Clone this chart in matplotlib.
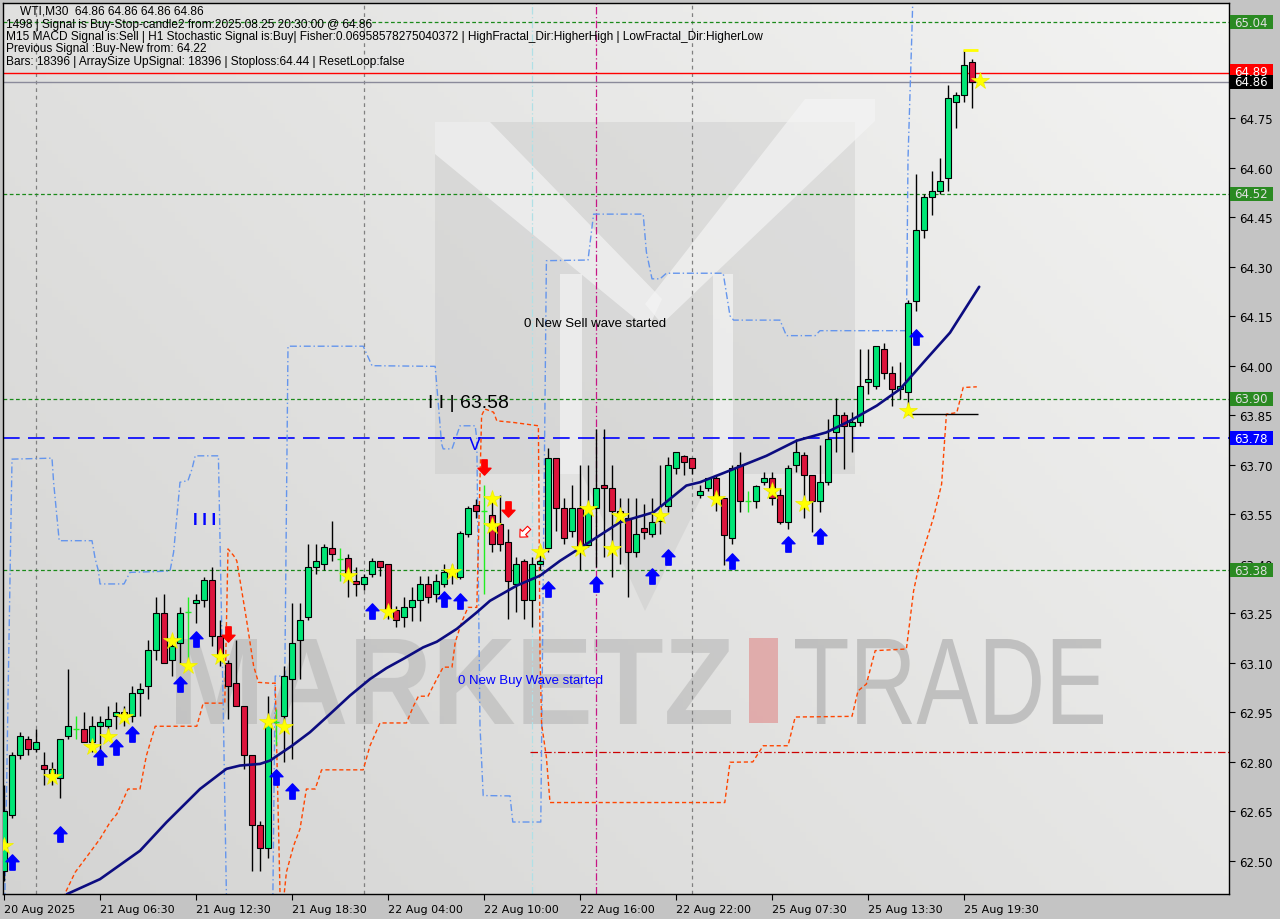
import numpy as np
import matplotlib
matplotlib.use("Agg")
import matplotlib.pyplot as plt
from matplotlib.path import Path
from matplotlib.patches import Rectangle, Polygon, PathPatch
from matplotlib.textpath import TextPath
from matplotlib.font_manager import FontProperties
from matplotlib.transforms import Affine2D, blended_transform_factory

# WTI M30 bars, index 0 = 20 Aug 2025 (last visible bar 122)
opens = [62.47, 62.64, 62.82, 62.87, 62.84, 62.79, 62.765, 62.75, 62.88, 62.90,
         62.90, 62.86, 62.91, 62.91, 62.94, 62.95, 62.94, 63.01, 63.03, 63.14,
         63.25, 63.11, 63.16, 63.255, 63.28, 63.29, 63.35, 63.18, 63.10, 63.04,
         62.97, 62.82, 62.61, 62.54, 62.92, 62.94, 63.05, 63.17, 63.24, 63.39,
         63.40, 63.447, 63.415, 63.417, 63.349, 63.339, 63.369, 63.407, 63.399, 63.261,
         63.238, 63.268, 63.291, 63.339, 63.309, 63.339, 63.37, 63.359, 63.49, 63.578,
         63.56, 63.548, 63.521, 63.467, 63.339, 63.407, 63.291, 63.40, 63.447, 63.719,
         63.568, 63.50, 63.568, 63.457, 63.568, 63.639, 63.629, 63.56, 63.538, 63.437,
         63.507, 63.49, 63.53, 63.576, 63.689, 63.728, 63.72, 63.608, 63.629, 63.659,
         63.598, 63.477, 63.699, 63.589, 63.589, 63.649, 63.659, 63.608, 63.528, 63.699,
         63.73, 63.669, 63.589, 63.649, 63.798, 63.851, 63.818, 63.828, 63.95, 63.937,
         64.051, 63.978, 63.929, 63.919, 64.197, 64.41, 64.51, 64.53, 64.567, 64.80,
         64.82, 64.919, 64.86]
highs = [62.73, 62.83, 62.89, 62.88, 62.90, 62.83, 62.80, 62.87, 63.08, 62.94,
         62.95, 62.94, 62.94, 62.97, 62.98, 62.97, 63.03, 63.04, 63.17, 63.30,
         63.31, 63.17, 63.27, 63.30, 63.31, 63.36, 63.39, 63.23, 63.11, 63.17,
         62.97, 62.82, 62.62, 63.00, 62.96, 63.09, 63.28, 63.28, 63.46, 63.46,
         63.46, 63.531, 63.447, 63.43, 63.389, 63.37, 63.417, 63.41, 63.40, 63.273,
         63.299, 63.329, 63.364, 63.364, 63.369, 63.40, 63.40, 63.50, 63.575, 63.596,
         63.64, 63.608, 63.608, 63.505, 63.42, 63.415, 63.42, 63.43, 63.75, 63.72,
         63.60, 63.639, 63.699, 63.70, 63.808, 63.808, 63.699, 63.60, 63.60, 63.60,
         63.58, 63.60, 63.70, 63.722, 63.74, 63.73, 63.72, 63.64, 63.66, 63.665,
         63.60, 63.70, 63.738, 63.62, 63.64, 63.679, 63.679, 63.63, 63.70, 63.778,
         63.74, 63.67, 63.76, 63.839, 63.901, 63.86, 63.86, 64.051, 64.051, 64.06,
         64.069, 64.00, 64.01, 64.20, 64.581, 64.52, 64.591, 64.629, 64.85, 64.83,
         64.957, 64.93, 64.86]
lows = [62.44, 62.63, 62.81, 62.82, 62.83, 62.73, 62.73, 62.69, 62.87, 62.87,
        62.86, 62.83, 62.81, 62.89, 62.90, 62.91, 62.92, 62.94, 62.99, 63.11,
        63.10, 63.06, 63.10, 63.11, 63.22, 63.27, 63.15, 63.09, 62.93, 62.97,
        62.78, 62.47, 62.47, 62.51, 62.85, 62.80, 62.81, 63.05, 63.23, 63.37,
        63.38, 63.409, 63.349, 63.299, 63.304, 63.32, 63.359, 63.364, 63.233, 63.208,
        63.208, 63.228, 63.228, 63.28, 63.284, 63.33, 63.34, 63.354, 63.48, 63.54,
        63.31, 63.435, 63.44, 63.233, 63.253, 63.233, 63.208, 63.38, 63.435, 63.50,
        63.46, 63.48, 63.38, 63.45, 63.389, 63.42, 63.36, 63.40, 63.299, 63.42,
        63.474, 63.48, 63.49, 63.556, 63.672, 63.67, 63.672, 63.60, 63.62, 63.56,
        63.397, 63.46, 63.558, 63.558, 63.568, 63.64, 63.578, 63.52, 63.505, 63.679,
        63.538, 63.497, 63.558, 63.64, 63.738, 63.687, 63.738, 63.818, 63.915, 63.93,
        63.96, 63.877, 63.90, 63.879, 64.167, 64.386, 64.456, 64.52, 64.53, 64.719,
        64.80, 64.78, 64.86]
closes = [62.65, 62.82, 62.88, 62.84, 62.86, 62.78, 62.78, 62.87, 62.91, 62.90,
          62.86, 62.91, 62.92, 62.93, 62.95, 62.94, 63.01, 63.02, 63.14, 63.25,
          63.10, 63.15, 63.25, 63.255, 63.29, 63.35, 63.18, 63.11, 63.03, 62.97,
          62.82, 62.61, 62.54, 62.92, 62.92, 63.06, 63.16, 63.23, 63.39, 63.41,
          63.45, 63.43, 63.415, 63.364, 63.339, 63.359, 63.407, 63.389, 63.258, 63.231,
          63.268, 63.291, 63.339, 63.299, 63.349, 63.376, 63.38, 63.493, 63.568, 63.561,
          63.56, 63.46, 63.46, 63.349, 63.399, 63.291, 63.399, 63.41, 63.719, 63.568,
          63.477, 63.568, 63.435, 63.558, 63.629, 63.629, 63.561, 63.55, 63.437, 63.49,
          63.497, 63.528, 63.55, 63.699, 63.738, 63.707, 63.689, 63.619, 63.659, 63.596,
          63.488, 63.689, 63.589, 63.589, 63.637, 63.659, 63.598, 63.528, 63.689, 63.738,
          63.669, 63.589, 63.649, 63.778, 63.851, 63.818, 63.828, 63.937, 63.96, 64.059,
          63.978, 63.929, 63.937, 64.19, 64.411, 64.51, 64.528, 64.558, 64.81, 64.82,
          64.911, 64.86, 64.86]

tick_bars = [0, 12, 24, 36, 48, 60, 72, 84, 96, 108, 120]
tick_labels = ["20 Aug 2025", "21 Aug 06:30", "21 Aug 12:30", "21 Aug 18:30",
               "22 Aug 04:00", "22 Aug 10:00", "22 Aug 16:00", "22 Aug 22:00",
               "25 Aug 07:30", "25 Aug 13:30", "25 Aug 19:30"]

# moving average
ma_x = [5, 7.9, 12, 17, 20.3, 24.5, 27.8, 29.5, 32, 33.25, 36, 38.25, 40.75, 43.25,
        45.75, 47.8, 49.9, 52.4, 54.1, 56.6, 59.1, 60.75, 64.1, 67, 69.5, 72.8, 77,
        81.2, 85.3, 87, 91.2, 95.3, 99.1, 102.8, 105.75, 109.1, 112, 115.3, 118.25, 121.9]
ma_y = [62.33, 62.40, 62.445, 62.531, 62.617, 62.718, 62.779, 62.789, 62.794, 62.804,
        62.849, 62.89, 62.945, 63.001, 63.051, 63.084, 63.112, 63.147, 63.164, 63.203,
        63.253, 63.288, 63.334, 63.364, 63.409, 63.46, 63.526, 63.556, 63.637, 63.647,
        63.687, 63.727, 63.773, 63.798, 63.833, 63.879, 63.929, 64.02, 64.10, 64.239]

# lower band (orange)
lo_x = [7, 8.9, 10.75, 12, 13.25, 14.1, 15.5, 17, 17.8, 18.9, 24.1, 24.9, 26.8, 27.6,
        28, 28.7, 29.1, 30.3, 31.2, 31.8, 33.5, 33.9, 34.6, 35.3, 36.2, 37, 37.8, 38.9,
        39.7, 44.9, 45.75, 47, 50.3, 51.2, 51.8, 53, 54.1, 54.9, 56, 56.4, 57.2, 58,
        59.1, 59.7, 60.1, 61.2, 61.6, 63.7, 66.8, 67, 67.2, 67.8, 68.25, 90.1, 90.75,
        93.6, 94.9, 98, 98.9, 106, 106.75, 107.8, 108.9, 112.8, 113.7, 114.5, 116.2,
        117.2, 117.8, 119.1, 119.9, 121.6]
lo_y = [62.37, 62.466, 62.526, 62.567, 62.617, 62.642, 62.718, 62.718, 62.819, 62.908,
        62.908, 62.978, 62.978, 62.978, 63.445, 63.425, 63.409, 63.233, 63.091, 63.041,
        63.038, 63.039, 62.30, 62.466, 62.546, 62.597, 62.718, 62.718, 62.776, 62.776,
        62.849, 62.918, 62.918, 62.97, 62.999, 62.999, 63.051, 63.087, 63.087, 63.162,
        63.223, 63.268, 63.268, 63.849, 63.869, 63.859, 63.833, 63.828, 63.818, 63.127,
        62.915, 62.814, 62.677, 62.677, 62.799, 62.80, 62.849, 62.849, 62.936, 62.938,
        63.015, 63.036, 63.137, 63.142, 63.318, 63.409, 63.541, 63.641, 63.853, 63.858,
        63.934, 63.936]

# upper band (blue)
hi_x = [0.1, 0.5, 1, 6, 6.2, 6.6, 6.9, 11, 11.4, 11.8, 12, 15, 15.75, 20.75, 21.2, 22,
        23, 23.5, 23.9, 26.8, 27, 27.4, 27.8, 28, 33.6, 33.9, 35.1, 35.5, 36, 44.9, 46,
        53.9, 54.7, 54.9, 56, 57, 58.9, 59.1, 59.5, 59.9, 60.5, 63.25, 63.6, 67.1, 67.8,
        73, 73.7, 79.9, 80.3, 81, 82, 82.8, 89.9, 90.75, 91.2, 97, 97.8, 101.4, 102,
        112.8, 113, 113.5, 113.6]
hi_y = [62.37, 62.99, 63.717, 63.72, 63.647, 63.546, 63.47, 63.47, 63.415, 63.379,
        63.339, 63.339, 63.374, 63.378, 63.435, 63.647, 63.652, 63.687, 63.727, 63.727,
        63.475, 62.97, 62.40, 62.37, 62.37, 63.06, 63.06, 64.059, 64.059, 64.059, 64.0,
        63.998, 63.763, 63.748, 63.748, 63.818, 63.818, 63.778, 62.909, 62.698, 62.698,
        62.697, 62.618, 62.618, 64.318, 64.32, 64.459, 64.459, 64.344, 64.263, 64.263,
        64.28, 64.28, 64.151, 64.138, 64.138, 64.091, 64.091, 64.106, 64.106, 64.626,
        65.02, 65.11]

star_x = [0, 6, 11, 13, 15, 21, 23, 27, 33, 35, 43, 48, 56, 61, 61, 67, 72, 73, 76, 77,
          82, 89, 96, 100, 113, 122]
star_y = [62.546, 62.753, 62.844, 62.875, 62.935, 63.167, 63.091, 63.117, 62.92, 62.905,
          63.364, 63.253, 63.374, 63.596, 63.515, 63.435, 63.445, 63.566, 63.445, 63.546,
          63.546, 63.596, 63.621, 63.581, 63.864, 64.863]

up_x = [1, 7, 12, 14, 16, 22, 24, 34, 36, 46, 55, 57, 68, 74, 81, 83, 91, 98, 102, 114]
up_y = [62.496, 62.582, 62.814, 62.844, 62.885, 63.036, 63.172, 62.753, 62.713, 63.258,
        63.293, 63.288, 63.324, 63.339, 63.364, 63.42, 63.409, 63.46, 63.485, 64.086]
down_x = [28, 60, 63]
down_y = [63.187, 63.692, 63.566]

green_levels = [65.04, 64.52, 63.90, 63.38]
blue_level = 63.78
bid_level = 64.86
ask_level = 64.885
vlines_bars = [4, 45, 86]

GREEN = "#00e676"
RED = "#dc143c"
LIME = "#22ee22"

plt.rcParams['font.family'] = 'DejaVu Sans'

fig = plt.figure(figsize=(12.8, 9.2), dpi=100)
fig.patch.set_facecolor("#c4c4c4")
ax = fig.add_axes([3 / 1280, 25 / 920, 1226 / 1280, 891 / 920])

# background gradient
gx, gy = np.meshgrid(np.linspace(0, 1, 200), np.linspace(0, 1, 200))
shade = 0.83 + 0.125 * (0.6 * gx + 0.4 * gy)
ax.imshow(np.dstack([shade, shade, shade * 0.995]), extent=[0, 1, 0, 1],
          transform=ax.transAxes, origin="lower", aspect="auto", zorder=0)


def fp(x, y):
    return (x / 1280, 1 - y / 920)


def word_patch(text, x0, x1, ytop, ybase, weight, color, alpha):
    # watermark word stretched into a pixel box
    tp = TextPath((0, 0), text, size=1, prop=FontProperties(family="Liberation Sans", weight=weight))
    ext = tp.get_extents()
    sx = (x1 - x0) / ext.width
    sy = (ybase - ytop) / ext.y1
    tr = (Affine2D().translate(-ext.x0, 0).scale(sx / 1280, sy / 920)
          .translate(x0 / 1280, 1 - ybase / 920) + fig.transFigure)
    return PathPatch(tp, transform=tr, fc=color, ec="none", alpha=alpha, zorder=0.5)


# watermark logo
wm = dict(transform=fig.transFigure, zorder=0.5)
ax.add_patch(Rectangle(fp(435, 475), 420 / 1280, 352 / 920, fc="#bdbdbd", ec="none", alpha=0.3, **wm))
ax.add_patch(Polygon([fp(435, 123), fp(490, 123), fp(662, 300), fp(648, 330), fp(435, 155)],
                     fc="#f4f4f4", ec="none", alpha=0.7, **wm))
ax.add_patch(Polygon([fp(805, 100), fp(875, 100), fp(875, 122), fp(662, 325), fp(645, 305)],
                     fc="#f4f4f4", ec="none", alpha=0.7, **wm))
ax.add_patch(Rectangle(fp(560, 475), 22 / 1280, 200 / 920, fc="#f4f4f4", ec="none", alpha=0.7, **wm))
ax.add_patch(Rectangle(fp(713, 475), 20 / 1280, 200 / 920, fc="#f4f4f4", ec="none", alpha=0.7, **wm))
ax.add_patch(Polygon([fp(582, 475), fp(713, 475), fp(645, 612)], fc="#bdbdbd", ec="none", alpha=0.3, **wm))
ax.add_patch(word_patch("MARKETZ", 176, 731, 640, 725, "bold", "#b0b0b0", 0.5))
ax.add_patch(Rectangle(fp(749, 724), 29 / 1280, 85 / 920, fc="#e0a6a6", ec="none", alpha=0.9, **wm))
ax.add_patch(word_patch("TRADE", 795, 1103, 640, 725, "normal", "#b4b4b4", 0.75))

# vertical marker lines
for b in vlines_bars:
    ax.axvline(b, color="#808080", lw=0.9, ls=(0, (3, 3)), zorder=1)
ax.axvline(66, color="#b0e0e6", lw=0.9, ls=(0, (6, 2, 1, 2)), zorder=1)
ax.axvline(74, color="#c71585", lw=0.9, ls=(0, (6, 2, 1, 2)), zorder=1)

# horizontal levels
for lv in green_levels:
    ax.axhline(lv, color="#1a8a1a", lw=0.9, ls=(0, (3, 2)), zorder=1)
ax.axhline(blue_level, color="#0000ff", lw=1.2, ls=(0, (10, 5)), zorder=1)
ax.axhline(ask_level, color="#ff0000", lw=1.0, zorder=1)
ax.axhline(bid_level, color="#8a8a9a", lw=1.0, zorder=1)
ax.hlines(62.83, 65.75, 153.125, colors="#cc0000", lw=0.9, linestyles=[(0, (6, 2, 1, 2))], zorder=1)

# bands
ax.plot(hi_x, hi_y, color="#6495ed", lw=1.0, ls=(0, (5, 2, 1, 2)), zorder=2)
ax.plot(lo_x, lo_y, color="#ff4500", lw=1.0, ls=(0, (3, 2)), zorder=2)

# candles
for i, (o, h, l, c) in enumerate(zip(opens, highs, lows, closes)):
    if abs(c - o) < 1e-9:
        ax.vlines(i, l, h, color=LIME, lw=1.0, zorder=3)
        ax.hlines(o, i - 0.35, i + 0.35, color=LIME, lw=1.0, zorder=3)
        continue
    ax.vlines(i, l, h, color="black", lw=1.0, zorder=3)
    ax.bar(i, abs(c - o), bottom=min(o, c), width=0.7,
           color=GREEN if c > o else RED, edgecolor="black", linewidth=0.8, zorder=4)

ax.plot(ma_x, ma_y, color="#0c0c80", lw=1.9, zorder=5, solid_capstyle="round")

ax.hlines(63.854, 112.6, 121.75, colors="black", lw=1.0, zorder=5)
ax.hlines(64.957, 119.9, 121.8, colors="#ffff00", lw=2.0, zorder=5)

# signal markers
up_path = Path([(0, 1), (-0.85, 0.1), (-0.35, 0.1), (-0.35, -1), (0.35, -1), (0.35, 0.1),
                (0.85, 0.1), (0, 1)],
               [Path.MOVETO] + [Path.LINETO] * 6 + [Path.CLOSEPOLY])
down_path = up_path.transformed(Affine2D().scale(1, -1))
diag_path = up_path.transformed(Affine2D().rotate_deg(135))

ax.plot(star_x, star_y, ls="none", marker="*", ms=13, mfc="#ffff00", mec="#eeee00",
        mew=0.5, zorder=6)
ax.plot(up_x, up_y, ls="none", marker=up_path, ms=11, mfc="#0000ff", mec="#0000ff", zorder=6)
ax.plot(down_x, down_y, ls="none", marker=down_path, ms=11, mfc="#ff0000", mec="#ff0000", zorder=6)
ax.plot([65], [63.495], ls="none", marker=diag_path, ms=9, mfc="white", mec="#ff0000",
        mew=0.8, zorder=6)

# chart texts
ax.text(65, 64.129, "0 New Sell wave started", fontsize=9.5, family="Liberation Sans",
        ha="left", va="center", zorder=7)
ax.text(56.75, 63.048, "0 New Buy Wave started", fontsize=9.5, color="#0000ff",
        family="Liberation Sans", ha="left", va="center", zorder=7)
ax.text(53, 63.89, "I I | 63.58", fontsize=14, family="Liberation Sans",
        ha="left", va="center", zorder=7)
ax.text(23.6, 63.535, "I I I", fontsize=12, fontweight="bold", color="#0000ff",
        family="Liberation Sans", ha="left", va="center", zorder=7)
ax.text(58.9, 63.76, "V", fontsize=13, color="#0000ff", family="Liberation Sans",
        ha="center", va="center", zorder=7)

header = ["1498 | Signal is Buy-Stop-candle2 from:2025.08.25 20:30:00 @ 64.86",
          "M15 MACD Signal is:Sell | H1 Stochastic Signal is:Buy| Fisher:0.06958578275040372 | "
          "HighFractal_Dir:HigherHigh | LowFractal_Dir:HigherLow",
          "Previous Signal :Buy-New from: 64.22",
          "Bars: 18396 | ArraySize UpSignal: 18396 | Stoploss:64.44 | ResetLoop:false"]
fig.text(*fp(20, 12), "WTI,M30  64.86 64.86 64.86 64.86", fontsize=8.6,
         family="Liberation Sans", va="center", ha="left")
for k, line in enumerate(header):
    fig.text(*fp(6, 25 + 12.2 * k), line, fontsize=8.6, family="Liberation Sans",
             va="center", ha="left")

# axes
ax.set_xlim(-0.125, 153.125)
ax.set_ylim(62.40, 65.0984)
ax.yaxis.tick_right()
yt = np.round(np.arange(62.50, 65.06, 0.15), 2)
ax.set_yticks(yt)
ax.set_yticklabels([f"{v:.2f}" for v in yt])
ax.set_xticks(tick_bars)
ax.set_xticklabels(tick_labels, ha="left")
ax.tick_params(axis="y", direction="out", length=4, width=0.8, labelsize=8.5, pad=3)
ax.tick_params(axis="x", direction="out", length=4, width=0.8, labelsize=8, pad=3)
for s in ax.spines.values():
    s.set_color("black")
    s.set_linewidth(1.0)

# price label boxes on the right scale
bt = blended_transform_factory(ax.transAxes, ax.transData)
boxes = [(65.04, "65.04", "#2a8a22", "#e0e0e0"),
         (64.52, "64.52", "#2a8a22", "#e0e0e0"),
         (63.90, "63.90", "#2a8a22", "#e0e0e0"),
         (63.38, "63.38", "#2a8a22", "#e0e0e0"),
         (63.78, "63.78", "#0000ff", "#ffffff"),
         (64.892, "64.89", "#ff0000", "#ffffff"),
         (64.86, "64.86", "#000000", "#ffffff")]
for p, t, fc, tc in boxes:
    ax.add_patch(Rectangle((1.0008, p - 0.0212), 0.0352, 0.0424, transform=bt, fc=fc,
                           ec="none", clip_on=False, zorder=10))
    ax.text(1.0045, p, t, transform=bt, fontsize=8.5, color=tc, va="center", ha="left",
            clip_on=False, zorder=11)

fig.savefig("out.png", dpi=100, facecolor=fig.get_facecolor())
